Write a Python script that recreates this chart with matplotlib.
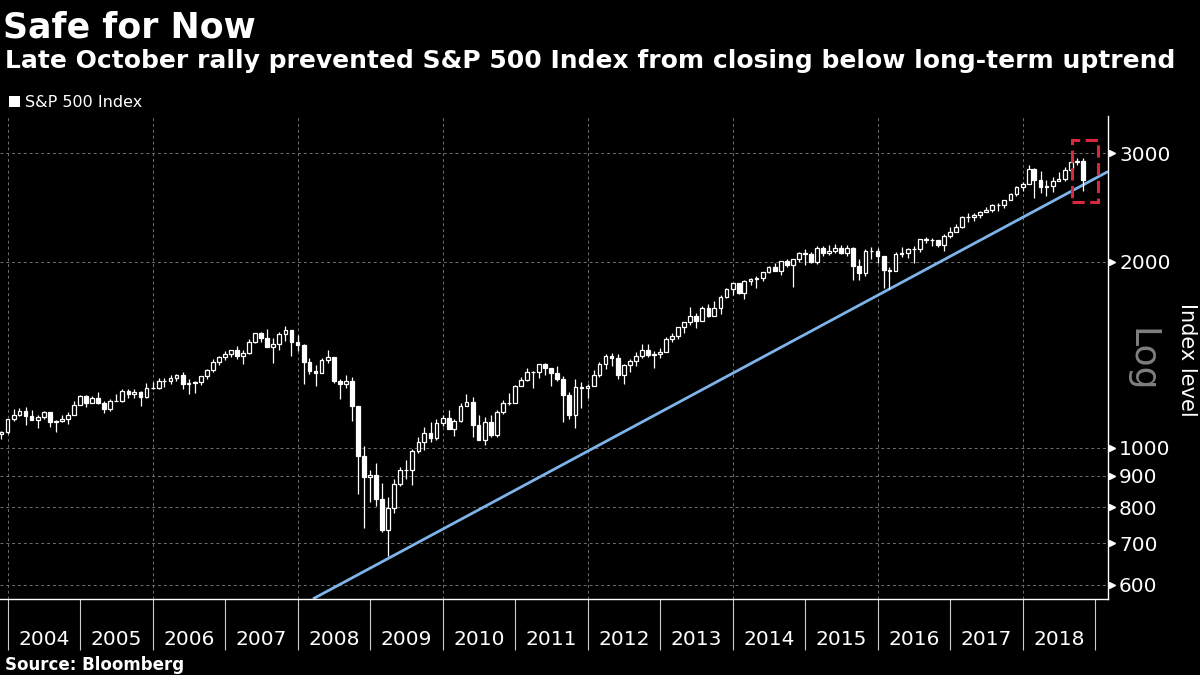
import numpy as np
import pandas as pd
import matplotlib
matplotlib.use('Agg')
import matplotlib.pyplot as plt
import matplotlib.dates as mdates
from matplotlib.patches import Rectangle
from matplotlib.ticker import FixedLocator, FixedFormatter, NullLocator

# monthly S&P 500 candles, Nov 2003 .. Oct 2018 (one row per year)
first_month_end = '2003-11-30'

opens = [
    1050.7, 1058.2,
    1111.9, 1131.1, 1144.9, 1126.2, 1107.3, 1120.7, 1140.8, 1101.7, 1104.2, 1114.6, 1130.2, 1173.8,
    1211.9, 1181.3, 1203.6, 1180.6, 1156.9, 1191.5, 1191.3, 1234.2, 1220.3, 1228.8, 1207.0, 1249.5,
    1248.3, 1280.1, 1280.7, 1294.8, 1310.6, 1270.1, 1270.2, 1276.7, 1303.8, 1335.9, 1377.9, 1400.6,
    1418.3, 1438.2, 1406.8, 1420.9, 1482.4, 1530.6, 1503.4, 1455.3, 1474.0, 1526.8, 1549.4, 1481.1,
    1468.4, 1378.6, 1330.6, 1322.7, 1385.6, 1400.4, 1280.0, 1267.4, 1282.8, 1166.4, 968.8, 896.2,
    903.3, 825.9, 735.1, 797.9, 872.8, 919.1, 919.3, 987.5, 1020.6, 1057.1, 1036.2, 1095.6,
    1115.1, 1073.9, 1104.5, 1169.4, 1186.7, 1089.4, 1030.7, 1101.6, 1049.3, 1141.2, 1183.3, 1180.6,
    1257.6, 1286.1, 1327.2, 1325.8, 1363.6, 1345.2, 1320.6, 1292.3, 1218.9, 1131.4, 1253.3, 1247.0,
    1257.6, 1312.4, 1365.7, 1408.5, 1397.9, 1310.3, 1362.2, 1379.3, 1406.6, 1440.7, 1412.2, 1416.2,
    1426.2, 1498.1, 1514.7, 1569.2, 1597.6, 1630.7, 1606.3, 1685.7, 1633.0, 1681.6, 1756.5, 1805.8,
    1848.4, 1782.6, 1859.5, 1872.3, 1884.0, 1923.6, 1960.2, 1930.7, 2003.4, 1972.3, 2018.1, 2067.6,
    2058.9, 1995.0, 2104.5, 2067.9, 2085.5, 2107.4, 2063.1, 2103.8, 1972.2, 1920.0, 2079.4, 2080.4,
    2043.9, 1940.2, 1932.2, 2059.7, 2065.3, 2097.0, 2098.9, 2173.6, 2171.0, 2168.3, 2126.2, 2198.8,
    2238.8, 2278.9, 2363.6, 2362.7, 2384.2, 2411.8, 2423.4, 2470.3, 2471.7, 2519.4, 2575.3, 2647.6,
    2673.6, 2823.8, 2713.8, 2640.9, 2648.1, 2705.3, 2718.4, 2816.3, 2901.5, 2914.0,
]
highs = [
    1063.7, 1112.6,
    1155.4, 1159.0, 1163.2, 1150.6, 1127.7, 1146.3, 1140.8, 1109.7, 1131.5, 1142.1, 1188.5, 1217.3,
    1217.8, 1212.4, 1229.1, 1191.9, 1199.6, 1219.6, 1245.2, 1245.9, 1243.1, 1233.3, 1270.6, 1275.8,
    1294.9, 1297.6, 1310.9, 1318.2, 1326.7, 1290.7, 1280.4, 1306.7, 1340.3, 1389.5, 1407.9, 1431.8,
    1441.6, 1461.6, 1438.9, 1498.0, 1535.6, 1540.6, 1555.9, 1503.9, 1538.7, 1576.1, 1552.8, 1523.6,
    1471.8, 1396.0, 1359.7, 1397.0, 1440.2, 1404.1, 1292.2, 1313.2, 1303.0, 1167.0, 1007.5, 918.9,
    943.9, 877.9, 833.0, 888.7, 930.2, 956.2, 996.7, 1039.5, 1080.2, 1101.4, 1113.7, 1130.4,
    1150.5, 1112.4, 1180.2, 1219.8, 1206.2, 1131.2, 1121.0, 1129.2, 1148.9, 1196.1, 1227.1, 1262.6,
    1302.7, 1344.1, 1332.3, 1364.6, 1370.6, 1345.2, 1356.5, 1307.4, 1229.3, 1292.7, 1277.6, 1269.4,
    1333.5, 1378.0, 1419.2, 1422.4, 1415.3, 1363.5, 1391.7, 1426.7, 1474.5, 1471.0, 1434.3, 1448.0,
    1509.9, 1530.9, 1570.3, 1598.6, 1687.2, 1654.2, 1698.8, 1709.7, 1729.9, 1767.0, 1813.6, 1849.4,
    1850.8, 1867.9, 1884.0, 1897.3, 1924.0, 1968.2, 1991.4, 2005.0, 2019.3, 2018.2, 2075.8, 2093.6,
    2072.4, 2119.6, 2117.5, 2125.9, 2134.7, 2129.9, 2132.8, 2112.7, 2021.0, 2094.3, 2116.5, 2104.3,
    2043.9, 1963.0, 2072.2, 2111.1, 2103.5, 2120.6, 2177.1, 2193.8, 2187.9, 2169.6, 2214.1, 2277.5,
    2301.0, 2371.5, 2401.0, 2398.2, 2418.7, 2453.8, 2484.0, 2490.9, 2519.4, 2583.0, 2657.7, 2695.0,
    2872.9, 2836.0, 2801.9, 2717.5, 2742.2, 2791.5, 2848.0, 2916.5, 2940.9, 2939.9,
]
lows = [
    1031.2, 1053.4,
    1105.1, 1124.4, 1087.2, 1107.2, 1076.3, 1113.3, 1078.8, 1060.7, 1101.3, 1090.2, 1127.6, 1173.8,
    1163.8, 1180.0, 1176.9, 1136.2, 1146.2, 1188.3, 1183.6, 1201.1, 1205.4, 1168.2, 1201.1, 1246.6,
    1245.7, 1253.6, 1268.4, 1280.7, 1245.3, 1219.3, 1224.5, 1261.3, 1290.9, 1327.1, 1361.0, 1385.9,
    1404.0, 1389.4, 1364.0, 1416.4, 1476.7, 1484.2, 1454.3, 1370.6, 1439.5, 1489.6, 1406.1, 1435.7,
    1270.1, 1316.8, 1257.0, 1322.7, 1373.1, 1272.0, 1200.4, 1248.5, 1106.4, 839.8, 741.0, 815.7,
    804.3, 731.0, 666.8, 783.3, 866.1, 888.9, 869.3, 978.5, 992.0, 1020.0, 1029.4, 1085.9,
    1071.6, 1044.5, 1101.4, 1169.4, 1040.8, 1028.3, 1010.9, 1039.7, 1040.0, 1131.9, 1173.0, 1180.6,
    1257.6, 1282.9, 1249.1, 1294.7, 1311.8, 1258.1, 1282.9, 1101.5, 1114.2, 1074.8, 1158.7, 1202.4,
    1257.6, 1300.5, 1340.0, 1357.4, 1292.0, 1266.7, 1325.4, 1354.7, 1396.6, 1403.3, 1343.4, 1398.1,
    1426.2, 1485.0, 1501.5, 1536.0, 1581.3, 1560.3, 1604.6, 1627.5, 1633.0, 1646.5, 1746.2, 1768.0,
    1770.5, 1737.9, 1834.4, 1814.4, 1859.8, 1916.0, 1930.7, 1904.8, 1964.0, 1820.7, 2001.0, 1972.6,
    1988.1, 1980.9, 2039.7, 2048.4, 2067.9, 2056.3, 2044.0, 1867.0, 1871.9, 1893.7, 2019.4, 1993.3,
    1812.3, 1810.1, 1932.2, 2033.8, 2025.9, 1991.7, 2074.0, 2147.6, 2119.1, 2114.7, 2083.8, 2187.4,
    2238.8, 2271.7, 2322.3, 2329.0, 2352.7, 2405.7, 2407.7, 2417.4, 2446.6, 2519.4, 2557.5, 2605.5,
    2673.6, 2532.7, 2585.9, 2553.8, 2594.6, 2698.7, 2698.9, 2796.3, 2864.1, 2603.5,
]
closes = [
    1058.2, 1111.9,
    1131.1, 1144.9, 1126.2, 1107.3, 1120.7, 1140.8, 1101.7, 1104.2, 1114.6, 1130.2, 1173.8, 1211.9,
    1181.3, 1203.6, 1180.6, 1156.9, 1191.5, 1191.3, 1234.2, 1220.3, 1228.8, 1207.0, 1249.5, 1248.3,
    1280.1, 1280.7, 1294.8, 1310.6, 1270.1, 1270.2, 1276.7, 1303.8, 1335.9, 1377.9, 1400.6, 1418.3,
    1438.2, 1406.8, 1420.9, 1482.4, 1530.6, 1503.4, 1455.3, 1474.0, 1526.8, 1549.4, 1481.1, 1468.4,
    1378.6, 1330.6, 1322.7, 1385.6, 1400.4, 1280.0, 1267.4, 1282.8, 1166.4, 968.8, 896.2, 903.3,
    825.9, 735.1, 797.9, 872.8, 919.1, 919.3, 987.5, 1020.6, 1057.1, 1036.2, 1095.6, 1115.1,
    1073.9, 1104.5, 1169.4, 1186.7, 1089.4, 1030.7, 1101.6, 1049.3, 1141.2, 1183.3, 1180.6, 1257.6,
    1286.1, 1327.2, 1325.8, 1363.6, 1345.2, 1320.6, 1292.3, 1218.9, 1131.4, 1253.3, 1247.0, 1257.6,
    1312.4, 1365.7, 1408.5, 1397.9, 1310.3, 1362.2, 1379.3, 1406.6, 1440.7, 1412.2, 1416.2, 1426.2,
    1498.1, 1514.7, 1569.2, 1597.6, 1630.7, 1606.3, 1685.7, 1633.0, 1681.6, 1756.5, 1805.8, 1848.4,
    1782.6, 1859.5, 1872.3, 1884.0, 1923.6, 1960.2, 1930.7, 2003.4, 1972.3, 2018.1, 2067.6, 2058.9,
    1995.0, 2104.5, 2067.9, 2085.5, 2107.4, 2063.1, 2103.8, 1972.2, 1920.0, 2079.4, 2080.4, 2043.9,
    1940.2, 1932.2, 2059.7, 2065.3, 2097.0, 2098.9, 2173.6, 2171.0, 2168.3, 2126.2, 2198.8, 2238.8,
    2278.9, 2363.6, 2362.7, 2384.2, 2411.8, 2423.4, 2470.3, 2471.7, 2519.4, 2575.3, 2647.6, 2673.6,
    2823.8, 2713.8, 2640.9, 2648.1, 2705.3, 2718.4, 2816.3, 2901.5, 2914.0, 2711.7,
]

# long-term uptrend line (start / end of the drawn segment)
trend_dates = ['2008-03-18', '2019-03-06']
trend_values = [569, 2800]

# highlighted last two months
box_dates = ['2018-09-04', '2019-01-16']
box_values = [2500, 3150]

y_ticks = [600, 700, 800, 900, 1000, 2000, 3000]
years = list(range(2004, 2019))

title = 'Safe for Now'
subtitle = 'Late October rally prevented S&P 500 Index from closing below long-term uptrend'
series_name = 'S&P 500 Index'
source = 'Source: Bloomberg'

# ---------------------------------------------------------------
dates = pd.date_range(first_month_end, periods=len(closes), freq='ME')
x = mdates.date2num(dates.to_pydatetime())
o = np.array(opens)
h = np.array(highs)
l = np.array(lows)
c = np.array(closes)
up = c >= o

plt.rcParams['font.family'] = ['DejaVu Sans']

fig = plt.figure(figsize=(12, 6.75), dpi=100, facecolor='black')
ax = fig.add_axes([0.0, 1 - 599 / 675, 1108 / 1200, (599 - 116) / 675])
ax.set_facecolor('black')
ax.set_yscale('log')

# grid
for yv in y_ticks:
    ax.axhline(yv, color='#707070', lw=0.7, ls=(0, (3, 3)), zorder=0)
for yr in years[::2]:
    ax.axvline(mdates.date2num(pd.Timestamp(f'{yr}-01-01')), color='#707070',
               lw=0.7, ls=(0, (3, 3)), zorder=0)

# trend line
ax.plot(mdates.date2num(pd.to_datetime(trend_dates)), trend_values,
        color='#7db4ea', lw=2.0, zorder=2, solid_capstyle='butt')

# candles
width = 19
ax.vlines(x, l, h, color='white', lw=0.9, zorder=3)
body_lo = np.minimum(o, c)
body_hi = np.maximum(o, c)
ax.bar(x[up], body_hi[up] - body_lo[up], bottom=body_lo[up], width=width,
       color='black', edgecolor='white', linewidth=0.9, zorder=4)
ax.bar(x[~up], body_hi[~up] - body_lo[~up], bottom=body_lo[~up], width=width,
       color='white', edgecolor='white', linewidth=0.9, zorder=4)

# highlight box
bx = mdates.date2num(pd.to_datetime(box_dates))
ax.add_patch(Rectangle((bx[0], box_values[0]), bx[1] - bx[0], box_values[1] - box_values[0],
                       fill=False, edgecolor='#d8283e', lw=2.2, ls=(0, (4, 1.8)), zorder=5))

# limits
ax.set_xlim(mdates.date2num(pd.Timestamp('2003-11-23')), mdates.date2num(pd.Timestamp('2019-03-06')))
ax.set_ylim(568.7, 3444)

# spines
for s in ['top', 'left']:
    ax.spines[s].set_visible(False)
ax.spines['bottom'].set_color('white')
ax.spines['right'].set_color('white')
ax.spines['bottom'].set_linewidth(1.0)
ax.spines['right'].set_linewidth(1.0)

# x axis: year separators + centred labels
ax.xaxis.set_major_locator(FixedLocator(
    [mdates.date2num(pd.Timestamp(f'{yr}-01-01')) for yr in years + [2019]]))
ax.xaxis.set_major_formatter(FixedFormatter([''] * (len(years) + 1)))
ax.xaxis.set_minor_locator(FixedLocator(
    [mdates.date2num(pd.Timestamp(f'{yr}-07-02')) for yr in years]))
ax.xaxis.set_minor_formatter(FixedFormatter([str(yr) for yr in years]))
ax.tick_params(axis='x', which='major', length=37, width=0.8, color='#cccccc', direction='out')
ax.tick_params(axis='x', which='minor', length=0, pad=22, labelsize=14.5, labelcolor='white')

# y axis on right
ax.yaxis.tick_right()
ax.yaxis.set_major_locator(FixedLocator(y_ticks))
ax.yaxis.set_major_formatter(FixedFormatter([str(v) for v in y_ticks]))
ax.yaxis.set_minor_locator(NullLocator())
ax.tick_params(axis='y', which='major', length=0, pad=8, labelsize=14.5, labelcolor='white')
trans = ax.get_yaxis_transform()
ax.plot([1.004] * len(y_ticks), y_ticks, marker='>', ls='none', ms=4.5, color='white',
        transform=trans, clip_on=False, zorder=6)

# texts
fig.text(3 / 1200, 1 - 37 / 675, title, color='white', fontsize=25, fontweight='bold', va='baseline')
fig.text(5 / 1200, 1 - 68 / 675, subtitle, color='white', fontsize=18, fontweight='bold', va='baseline')
fig.patches.append(Rectangle((9 / 1200, 1 - 107 / 675), 11 / 1200, 11 / 675, transform=fig.transFigure,
                             facecolor='white', edgecolor='none'))
fig.text(25 / 1200, 1 - 107 / 675, series_name, color='white', fontsize=11.5, va='baseline')
fig.text(5 / 1200, 1 - 670 / 675, source, color='white', fontsize=12, fontweight='bold', va='baseline')
fig.text(1187 / 1200, 1 - 360 / 675, 'Index level', color='white', fontsize=15,
         rotation=270, ha='center', va='center')
fig.text(1141 / 1200, 1 - 360 / 675, 'Log', color='#7f7f7f', fontsize=26,
         rotation=270, ha='center', va='center')

fig.savefig('out.png', dpi=100, facecolor='black')
